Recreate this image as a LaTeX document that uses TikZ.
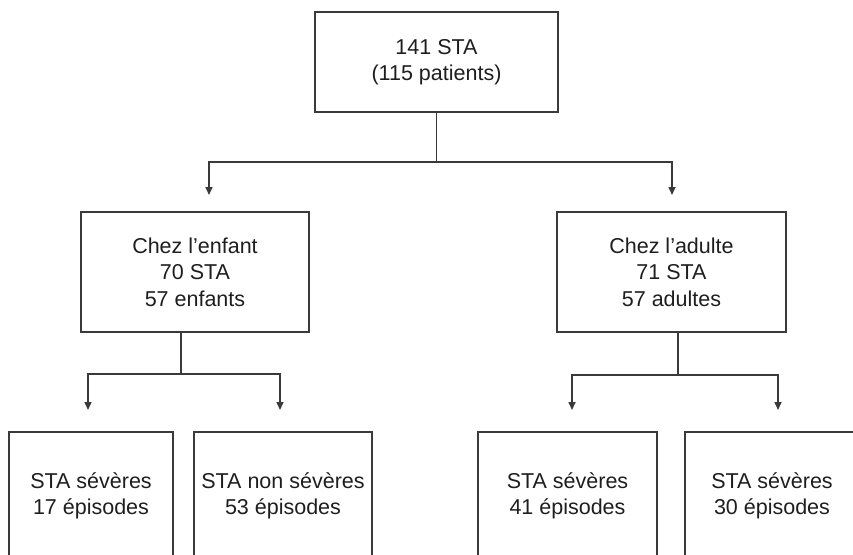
\documentclass[tikz,border=0pt]{standalone}
\usepackage{fontspec}
\setmainfont{Liberation Sans}
\usetikzlibrary{arrows.meta}
\definecolor{linec}{HTML}{3A3A3A}
\definecolor{textc}{HTML}{1E1E1E}
\tikzset{
  box/.style={draw=linec, line width=1.6pt, rectangle, inner sep=0pt, align=center,
    text=textc, font=\fontsize{21.5pt}{26.5pt}\selectfont},
  conn/.style={draw=linec, line width=1.6pt},
  arr/.style={conn, -{Triangle[length=8pt,width=7pt]}},
}
\begin{document}
\begin{tikzpicture}[x=1pt,y=-1pt]
\useasboundingbox (0,0) rectangle (853,554);
\clip (0,0) rectangle (853,554);
% top
\node[box, minimum width=243pt, minimum height=100pt] (top) at (436.5,62) {141 STA\\(115 patients)};
% middle
\node[box, minimum width=228pt, minimum height=120pt] (enf) at (195,272) {Chez l’enfant\\70 STA\\57 enfants};
\node[box, minimum width=229pt, minimum height=120pt] (adu) at (671.5,272) {Chez l’adulte\\71 STA\\57 adultes};
% bottom
\node[box, minimum width=164pt, minimum height=128pt] (b1) at (91,496) {STA sévères\\17 épisodes};
\node[box, minimum width=178pt, minimum height=128pt] (b2) at (283,496) {STA non sévères\\53 épisodes};
\node[box, minimum width=179pt, minimum height=128pt] (b3) at (567.5,496) {STA sévères\\41 épisodes};
\node[box, minimum width=174pt, minimum height=128pt] (b4) at (772,496) {STA sévères\\30 épisodes};
% junctions and arrow tips
\coordinate (j0) at (436.5,162);
\coordinate (t1) at (209,195);
\coordinate (t2) at (672,195);
\coordinate (j1) at (181,374);
\coordinate (t3) at (88,410);
\coordinate (t4) at (280,410);
\coordinate (j2) at (678,375);
\coordinate (t5) at (572,410);
\coordinate (t6) at (778,410);
% connectors
\draw[conn] (top.south) -- (j0);
\draw[arr] (j0) -| (t1);
\draw[arr] (j0) -| (t2);
\draw[conn] (enf.south -| j1) -- (j1);
\draw[arr] (j1) -| (t3);
\draw[arr] (j1) -| (t4);
\draw[conn] (adu.south -| j2) -- (j2);
\draw[arr] (j2) -| (t5);
\draw[arr] (j2) -| (t6);
\end{tikzpicture}
\end{document}
